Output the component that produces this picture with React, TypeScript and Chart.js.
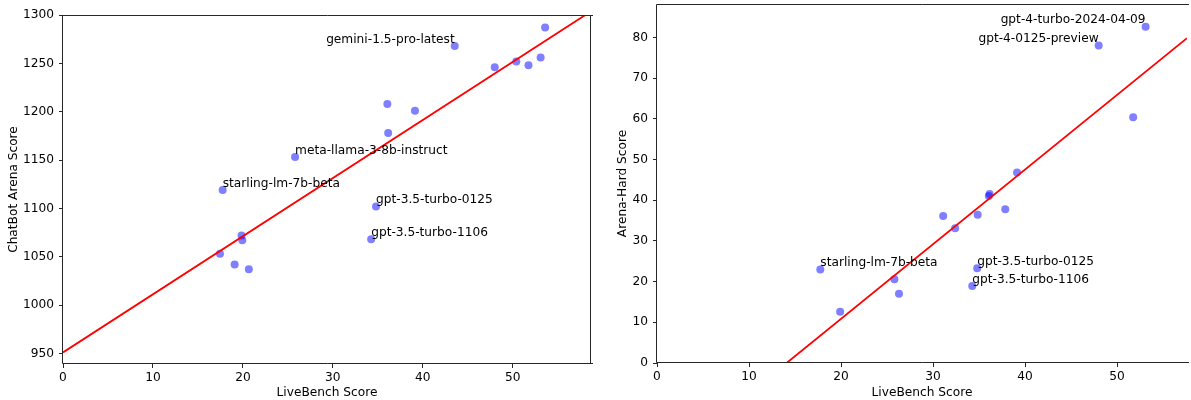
import React, { useEffect, useRef } from "react";
import { Chart, registerables } from "chart.js";

Chart.register(...registerables);

// ---- Data: left panel (LiveBench vs ChatBot Arena) ----
const arenaNames = [
  "gemini-1.5-pro-latest", "", "", "", "", "", "", "", "",
  "meta-llama-3-8b-instruct", "starling-lm-7b-beta",
  "gpt-3.5-turbo-0125", "gpt-3.5-turbo-1106", "", "", "", "", "",
];
const arenaLiveBench = [
  43.55, 53.6, 48.0, 50.4, 51.75, 53.1, 36.06, 39.13, 36.15,
  25.8, 17.75, 34.8, 34.26, 19.85, 19.93, 17.45, 19.08, 20.66,
];
const arenaScores = [
  1268, 1287, 1246, 1252, 1248, 1256, 1208, 1201, 1178,
  1153, 1119, 1102, 1068, 1072, 1067, 1053, 1042, 1037,
];
const arenaFit = { intercept: 951, slope: 6.01 };
const arenaXTicks = [0, 10, 20, 30, 40, 50];
const arenaYTicks = [950, 1000, 1050, 1100, 1150, 1200, 1250, 1300];

// ---- Data: right panel (LiveBench vs Arena-Hard) ----
const hardNames = [
  "gpt-4-turbo-2024-04-09", "gpt-4-0125-preview", "", "", "", "", "", "", "", "",
  "starling-lm-7b-beta", "", "", "", "gpt-3.5-turbo-0125", "gpt-3.5-turbo-1106",
];
const hardLiveBench = [
  53.1, 48.0, 51.75, 39.13, 36.06, 36.15, 31.1, 32.4, 34.85, 37.85,
  17.75, 25.8, 26.3, 19.9, 34.8, 34.26,
];
const hardScores = [
  82.6, 78.0, 60.4, 46.8, 41.0, 41.5, 36.1, 33.1, 36.4, 37.8,
  23.0, 20.6, 17.0, 12.6, 23.3, 18.9,
];
const hardFit = { intercept: -25.83, slope: 1.834 };
const hardXTicks = [0, 10, 20, 30, 40, 50];
const hardYTicks = [0, 10, 20, 30, 40, 50, 60, 70, 80];

const rightAligned = new Set(["gemini-1.5-pro-latest", "gpt-4-turbo-2024-04-09", "gpt-4-0125-preview"]);

const FONT = "'DejaVu Sans', sans-serif";
const FS = 12.2;

type PanelCfg = {
  names: string[];
  xs: number[];
  ys: number[];
  fit: { intercept: number; slope: number };
  xTicks: number[];
  yTicks: number[];
  xMin: number; xMax: number; yMin: number; yMax: number;
  yTitle: string;
  yAxisWidth: number;
  xAxisHeight: number;
  padding: { top: number; right: number; left: number; bottom: number };
  yTitlePad: number;
  drawRightSpine: boolean;
};

function makeChart(canvas: HTMLCanvasElement, cfg: PanelCfg) {
  const pts = cfg.xs.map((x, i) => ({ x, y: cfg.ys[i] }));
  const line = [
    { x: cfg.xMin, y: cfg.fit.intercept + cfg.fit.slope * cfg.xMin },
    { x: cfg.xMax, y: cfg.fit.intercept + cfg.fit.slope * cfg.xMax },
  ];

  const framePlugin = {
    id: "frame",
    afterDraw(chart: any) {
      const { ctx, chartArea: a } = chart;
      ctx.save();
      ctx.strokeStyle = "#262626";
      ctx.lineWidth = 1;
      ctx.beginPath();
      const l = Math.round(a.left) - 0.5, r = Math.round(a.right) - 0.5;
      const t = Math.round(a.top) + 0.5, b = Math.round(a.bottom) - 0.5;
      ctx.moveTo(l, b); ctx.lineTo(l, t); ctx.lineTo(a.right + 2, t);
      ctx.moveTo(l, b); ctx.lineTo(a.right + 2, b);
      if (cfg.drawRightSpine) { ctx.moveTo(r, t); ctx.lineTo(r, b); }
      ctx.stroke();
      ctx.restore();
    },
  };

  const labelPlugin = {
    id: "ptLabels",
    afterDatasetsDraw(chart: any) {
      const { ctx } = chart;
      const sx = chart.scales.x, sy = chart.scales.y;
      ctx.save();
      ctx.font = `${FS}px ${FONT}`;
      ctx.fillStyle = "#000";
      ctx.textBaseline = "alphabetic";
      cfg.names.forEach((n, i) => {
        if (!n) return;
        const px = sx.getPixelForValue(cfg.xs[i]);
        const py = sy.getPixelForValue(cfg.ys[i]);
        ctx.textAlign = rightAligned.has(n) ? "right" : "left";
        ctx.fillText(n, px, py - 3.4);
      });
      ctx.restore();
    },
  };

  const tickFont = { family: FONT, size: FS };
  return new Chart(canvas, {
    type: "scatter",
    data: {
      datasets: [
        {
          type: "line",
          data: line,
          borderColor: "#ff0000",
          borderWidth: 1.8,
          pointRadius: 0,
          fill: false,
        } as any,
        {
          type: "scatter",
          data: pts,
          backgroundColor: "rgba(0,0,255,0.5)",
          borderWidth: 0,
          pointRadius: 4,
          pointHoverRadius: 4,
        },
      ],
    },
    options: {
      animation: false,
      responsive: false,
      maintainAspectRatio: false,
      events: [],
      layout: { padding: cfg.padding },
      plugins: { legend: { display: false }, tooltip: { enabled: false } },
      scales: {
        x: {
          type: "linear",
          min: cfg.xMin,
          max: cfg.xMax,
          border: { display: false },
          grid: { drawOnChartArea: false, drawTicks: true, tickLength: 4, color: "#262626" },
          ticks: { color: "#000", font: tickFont, padding: 3, maxRotation: 0, callback: (v: any) => String(v) },
          title: { display: true, text: "LiveBench Score", color: "#000", font: tickFont, padding: { top: 0, bottom: 0 } },
          afterBuildTicks: (s: any) => { s.ticks = cfg.xTicks.map((v) => ({ value: v })); },
          afterFit: (s: any) => { s.height = cfg.xAxisHeight; s.paddingLeft = 0; s.paddingRight = 0; },
        },
        y: {
          type: "linear",
          min: cfg.yMin,
          max: cfg.yMax,
          border: { display: false },
          grid: { drawOnChartArea: false, drawTicks: true, tickLength: 4, color: "#262626" },
          ticks: { color: "#000", font: tickFont, padding: 5, callback: (v: any) => String(v) },
          title: { display: true, text: cfg.yTitle, color: "#000", font: tickFont, padding: { top: cfg.yTitlePad, bottom: 0 } },
          afterBuildTicks: (s: any) => { s.ticks = cfg.yTicks.map((v) => ({ value: v })); },
          afterFit: (s: any) => { s.width = cfg.yAxisWidth; s.paddingTop = 0; s.paddingBottom = 0; },
        },
      },
    },
    plugins: [framePlugin, labelPlugin],
  } as any);
}

function Panel({ cfg, left, width }: { cfg: PanelCfg; left: number; width: number }) {
  const ref = useRef<HTMLCanvasElement | null>(null);
  useEffect(() => {
    if (!ref.current) return;
    const c = makeChart(ref.current, cfg);
    return () => c.destroy();
  }, []);
  return (
    <canvas
      ref={ref}
      width={width}
      height={400}
      style={{ position: "absolute", left, top: 0, width, height: 400 }}
    />
  );
}

const leftCfg: PanelCfg = {
  names: arenaNames,
  xs: arenaLiveBench,
  ys: arenaScores,
  fit: arenaFit,
  xTicks: arenaXTicks,
  yTicks: arenaYTicks,
  xMin: 0, xMax: 58.7, yMin: 939, yMax: 1300,
  yTitle: "ChatBot Arena Score",
  yAxisWidth: 63,
  xAxisHeight: 36,
  padding: { top: 15, right: 9, left: 0, bottom: 0 },
  yTitlePad: 6.7,
  drawRightSpine: true,
};

const rightCfg: PanelCfg = {
  names: hardNames,
  xs: hardLiveBench,
  ys: hardScores,
  fit: hardFit,
  xTicks: hardXTicks,
  yTicks: hardYTicks,
  xMin: 0, xMax: 57.6, yMin: 0, yMax: 88.2,
  yTitle: "Arena-Hard Score",
  yAxisWidth: 57,
  xAxisHeight: 37,
  padding: { top: 4, right: 0, left: 0, bottom: 0 },
  yTitlePad: 15.7,
  drawRightSpine: false,
};

export default function App() {
  return (
    <div style={{ position: "fixed", left: 0, top: 0, width: 1191, height: 400, background: "#fff", overflow: "hidden" }}>
      <Panel cfg={leftCfg} left={0} width={600} />
      <Panel cfg={rightCfg} left={600} width={591} />
    </div>
  );
}
